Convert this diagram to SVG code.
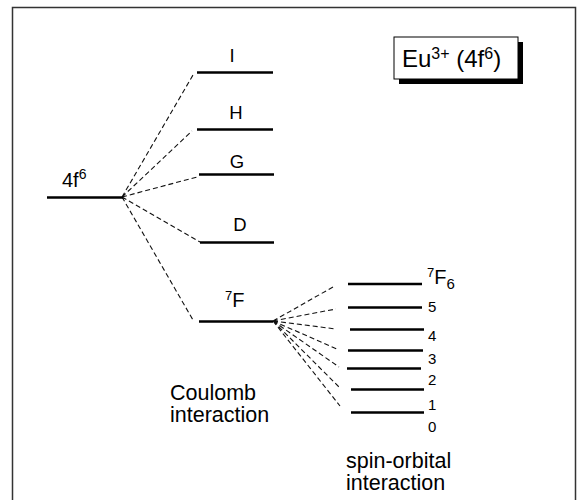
<svg xmlns="http://www.w3.org/2000/svg" width="577" height="500" viewBox="0 0 577 500">
<style>
.lvl{stroke:#000;stroke-width:2.5;fill:none}
.dash{stroke:#111;stroke-width:1.1;stroke-dasharray:5 3;fill:none}
text{font-family:"Liberation Sans",Arial,sans-serif;fill:#000}
.lab{font-size:18.5px}
.big{font-size:21.5px}
.sm{font-size:15px}
.sup{font-size:13px}
</style>
<rect width="577" height="500" fill="#fff"/>
<path d="M12.5 505 V7.5 H575.5 V505" fill="none" stroke="#333" stroke-width="1.5"/>
<g id="title">
<rect x="399" y="42" width="124" height="42" fill="#000"/>
<rect x="394" y="37" width="124" height="42" fill="#fff" stroke="#000" stroke-width="1"/>
<text x="402" y="67" style="font-size:24px">Eu<tspan dy="-8" style="font-size:16px">3+</tspan><tspan dy="8"> (4f</tspan><tspan dy="-8" style="font-size:16px">6</tspan><tspan dy="8">)</tspan></text>
</g>
<g id="connectors">
<path class="dash" d="M122 197 L193 75 M122 197 L192 131 M122 197 L197 177 M122 197 L200 242 M122 197 L193 320"/>
<path class="dash" d="M273 321 L333 287 M273 321 L336 309 M273 321 L336 329 M273 321 L337 349 M273 321 L339 367 M273 321 L339 387 M273 321 L340 406"/>
</g>
<g id="n4f6">
<line class="lvl" x1="47" y1="197.5" x2="123" y2="197.5"/>
<text style="font-size:20px" x="62" y="187">4f<tspan dy="-8" style="font-size:14px">6</tspan></text>
</g>
<g id="nI">
<line class="lvl" x1="197" y1="72.5" x2="273" y2="72.5"/>
<text class="lab" x="232" y="62" text-anchor="middle">I</text>
</g>
<g id="nH">
<line class="lvl" x1="197" y1="129.5" x2="273" y2="129.5"/>
<text class="lab" x="236" y="119" text-anchor="middle">H</text>
</g>
<g id="nG">
<line class="lvl" x1="199" y1="174.5" x2="274" y2="174.5"/>
<text class="lab" x="237" y="168" text-anchor="middle">G</text>
</g>
<g id="nD">
<line class="lvl" x1="200" y1="242.5" x2="274" y2="242.5"/>
<text class="lab" x="240" y="231" text-anchor="middle">D</text>
</g>
<g id="n7F">
<line class="lvl" x1="199" y1="321.5" x2="273" y2="321.5"/>
<text style="font-size:20px" x="225" y="307"><tspan dy="-7" class="sup">7</tspan><tspan dy="7">F</tspan></text>
</g>
<g id="coulomb">
<text class="big" x="170" y="400">Coulomb</text>
<text class="big" x="170" y="422">interaction</text>
</g>
<g id="j6">
<line class="lvl" x1="348" y1="284" x2="422" y2="284"/>
<text style="font-size:20px" x="427" y="284"><tspan dy="-7" class="sup">7</tspan><tspan dy="7">F</tspan><tspan dy="5" style="font-size:15px">6</tspan></text>
</g>
<g id="j5">
<line class="lvl" x1="348" y1="307.5" x2="422" y2="307.5"/>
<text class="sm" x="428" y="312">5</text>
</g>
<g id="j4">
<line class="lvl" x1="350" y1="329.5" x2="424" y2="329.5"/>
<text class="sm" x="428" y="341">4</text>
</g>
<g id="j3">
<line class="lvl" x1="348" y1="350.5" x2="423" y2="350.5"/>
<text class="sm" x="428" y="364">3</text>
</g>
<g id="j2">
<line class="lvl" x1="347" y1="368.5" x2="421" y2="368.5"/>
<text class="sm" x="428" y="385">2</text>
</g>
<g id="j1">
<line class="lvl" x1="351" y1="389.5" x2="424" y2="389.5"/>
<text class="sm" x="428" y="410">1</text>
</g>
<g id="j0">
<line class="lvl" x1="351" y1="412.5" x2="424" y2="412.5"/>
<text class="sm" x="428" y="432">0</text>
</g>
<g id="spin">
<text class="big" x="346" y="468">spin-orbital</text>
<text class="big" x="346" y="490">interaction</text>
</g>
</svg>
